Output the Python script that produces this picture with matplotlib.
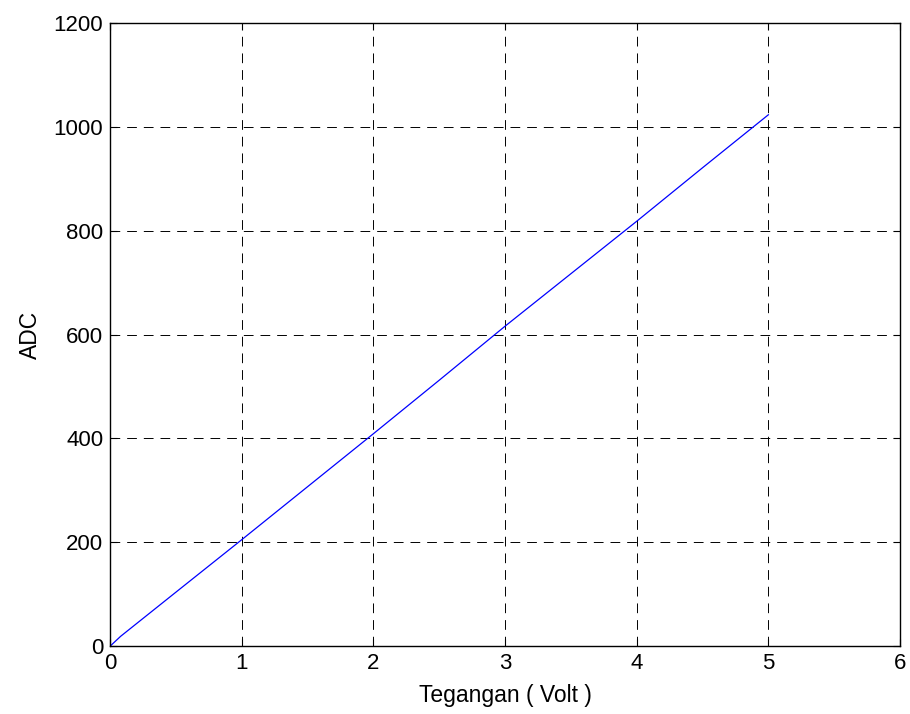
import matplotlib
matplotlib.use("Agg")
import matplotlib.pyplot as plt

plt.rcParams['font.family'] = ['Liberation Sans', 'DejaVu Sans']
plt.rcParams['lines.scale_dashes'] = False

# voltage (V) vs ADC reading
tegangan = [0, 0.08, 0.5, 1, 1.5, 2, 2.5, 3, 3.5, 4, 4.5, 5]
adc = [0, 19, 104, 205, 307, 409, 512, 616, 717, 818, 921, 1023]

xticks = [0, 1, 2, 3, 4, 5, 6]
yticks = [0, 200, 400, 600, 800, 1000, 1200]

fig = plt.figure(figsize=(9.1, 7.14), dpi=100)
ax = fig.add_axes([0.121, 0.095, 0.868, 0.873])

ax.plot(tegangan, adc, color='blue', lw=0.9)

ax.set_xlim(0, 6)
ax.set_ylim(0, 1200)
ax.set_xticks(xticks)
ax.set_yticks(yticks)
ax.tick_params(direction='in', labelsize=16, length=5, width=0.8,
               top=True, right=True, pad=5)
ax.grid(True, color='black', linestyle=(0, (7, 5)), lw=0.7)
for s in ax.spines.values():
    s.set_linewidth(1.0)

ax.set_xlabel('Tegangan ( Volt )', fontsize=16.5, labelpad=7)
ax.set_ylabel('ADC', fontsize=16.5, labelpad=8)

fig.savefig('out.png', dpi=100)
